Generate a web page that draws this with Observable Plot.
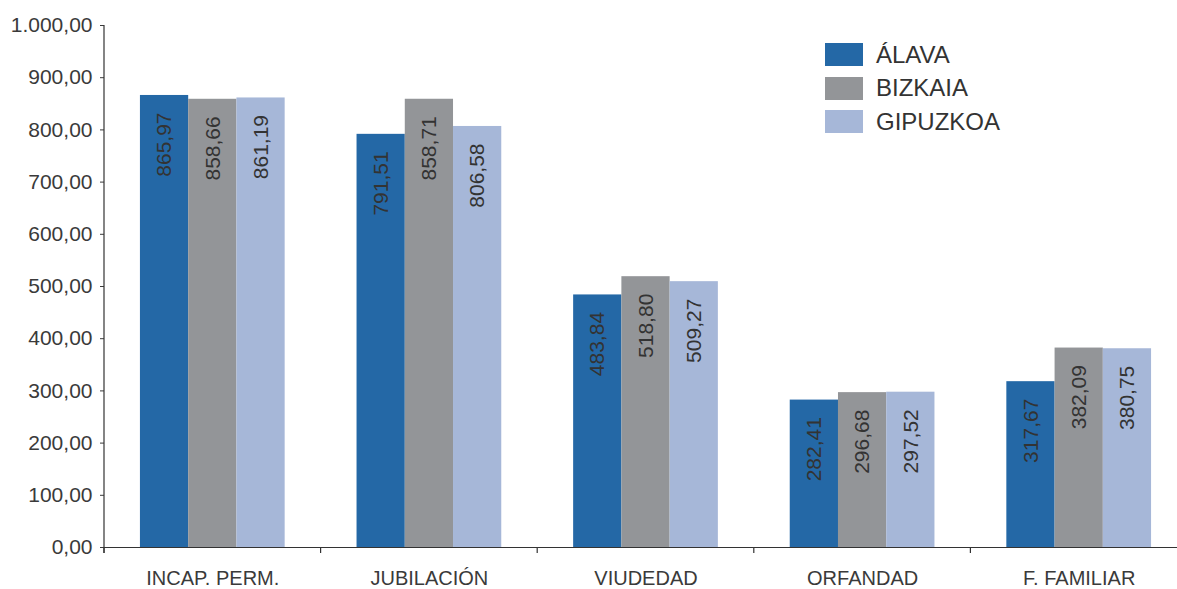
<!DOCTYPE html>
<html>
<head>
<meta charset="utf-8">
<script src="https://cdn.jsdelivr.net/npm/d3@7"></script>
<script src="https://cdn.jsdelivr.net/npm/@observablehq/plot@0.6"></script>
<style>
  html, body { margin: 0; padding: 0; background: #fff; overflow: hidden; }
  #wrap { position: relative; width: 1177px; height: 589px; overflow: hidden; }
  #wrap svg { max-width: none !important; }
  #legend { position: absolute; left: 825px; top: 38px; font-family: "Liberation Sans", Arial, sans-serif; font-size: 24px; color: #333; }
  .item { display: flex; align-items: center; height: 33.5px; }
  .sw { width: 38px; height: 23px; margin-right: 13px; }
</style>
</head>
<body>
<div id="wrap"><div id="legend"></div></div>
<script>
const categories = ["INCAP. PERM.", "JUBILACIÓN", "VIUDEDAD", "ORFANDAD", "F. FAMILIAR"];
const series = ["ÁLAVA", "BIZKAIA", "GIPUZKOA"];
const alava = [865.97, 791.51, 483.84, 282.41, 317.67];
const bizkaia = [858.66, 858.71, 518.80, 296.68, 382.09];
const gipuzkoa = [861.19, 806.58, 509.27, 297.52, 380.75];
const yTicks = [0, 100, 200, 300, 400, 500, 600, 700, 800, 900, 1000];
const colors = ["#2468A6", "#939598", "#A6B7D8"];

const values = [alava, bizkaia, gipuzkoa];
const data = categories.flatMap((c, i) => series.map((s, j) => ({cat: c, serie: s, value: values[j][i]})));
const fmt = d3.formatLocale({decimal: ",", thousands: ".", grouping: [3], currency: ["", ""]}).format(",.2f");

const chart = Plot.plot({
  width: 1188, height: 589,
  marginLeft: 104, marginRight: 1, marginTop: 25, marginBottom: 42,
  style: {fontFamily: "Liberation Sans, Arial, sans-serif", fontSize: "20px", color: "#3a3a3a", background: "#fff", maxWidth: "none"},
  fx: {domain: categories, padding: 0, round: false, label: null, axis: "bottom", tickSize: 0, tickPadding: 23},
  x: {domain: series, paddingInner: 0, paddingOuter: 0.745, round: false, axis: null},
  y: {domain: [0, 1000], ticks: yTicks, tickFormat: fmt, label: null, axis: null},
  color: {domain: series, range: colors},
  marks: [
    Plot.barY(data, {fx: "cat", x: "serie", y: "value", fill: "serie"}),
    Plot.text(data, {fx: "cat", x: "serie", y: "value", text: d => fmt(d.value), rotate: -90, textAnchor: "end", dy: 17, fill: "#333", fontSize: 21}),
    Plot.ruleY([0], {stroke: "#333", strokeWidth: 1.2}),
    Plot.axisY({ticks: yTicks, tickFormat: fmt, label: null, tickSize: 4, tickPadding: 8, fontSize: 21})
  ]
});

document.getElementById("wrap").appendChild(chart);

// axis line and category boundary ticks from the plot's own scales
const fx = chart.scale("fx"), y = chart.scale("y");
const svg = d3.select(chart);
const g = svg.append("g").attr("stroke", "#333").attr("stroke-width", 1.2);
const y0 = y.apply(0);
const xl = fx.apply(categories[0]);
g.append("line").attr("x1", xl).attr("x2", xl).attr("y1", y.apply(yTicks[yTicks.length - 1])).attr("y2", y0 + 6);
categories.forEach(c => {
  const xb = fx.apply(c);
  g.append("line").attr("x1", xb).attr("x2", xb).attr("y1", y0).attr("y2", y0 + 6);
});

const legend = document.getElementById("legend");
series.forEach((s, i) => {
  const item = document.createElement("div");
  item.className = "item";
  item.innerHTML = `<div class="sw" style="background:${colors[i]}"></div><span>${s}</span>`;
  legend.appendChild(item);
});
</script>
</body>
</html>
